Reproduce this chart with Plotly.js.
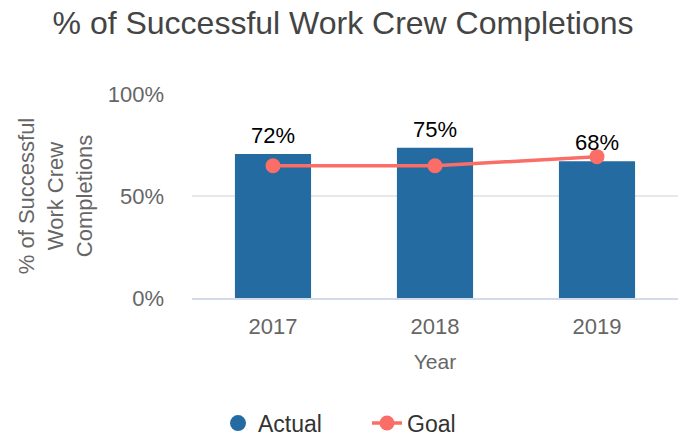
<!DOCTYPE html>
<html><head><meta charset="utf-8">
<script src="https://cdn.plot.ly/plotly-3.0.1.min.js"></script>
<style>html,body{margin:0;padding:0;background:#fff}#chart{width:686px;height:438px}</style>
</head><body><div id="chart"></div>
<script>
const years = ['2017', '2018', '2019'];
const actual = [70.6, 73.7, 67.0];
const actualLabels = ['72%', '75%', '68%'];
const goal = [64.8, 64.8, 69.3];
const yTickVals = [0, 50, 100];
const yTickText = ['0%', '50%', '100%'];

const blue = '#236ba1';
const salmon = '#fa6e67';
const font = 'Liberation Sans, Arial, Helvetica, sans-serif';

const traces = [
  {type: 'bar', x: years, y: actual, name: 'Actual', marker: {color: blue}, showlegend: false, hoverinfo: 'skip'},
  {type: 'scatter', mode: 'markers', x: [years[0]], y: [null], name: 'Actual',
   marker: {color: blue, size: 22, symbol: 'circle'}},
  {type: 'scatter', mode: 'lines+markers', x: years, y: goal, name: 'Goal',
   line: {color: salmon, width: 3.5}, marker: {color: salmon, size: 15}}
];

const annotations = years.map((yr, i) => ({
  xref: 'x', yref: 'y', x: i, y: actual[i], text: actualLabels[i], showarrow: false,
  yanchor: 'bottom', yshift: 4, font: {family: font, size: 22, color: '#000'}
}));

const layout = {
  width: 686, height: 438,
  margin: {l: 192, r: 8, t: 94, b: 140},
  paper_bgcolor: '#fff', plot_bgcolor: '#fff',
  font: {family: font, color: '#666'},
  title: {text: '% of Successful Work Crew Completions', x: 0.5, xanchor: 'center', yref: 'paper', y: 1, yanchor: 'bottom',
          pad: {b: 60}, font: {family: font, size: 32, color: '#444'}},
  bargap: 0.53,
  xaxis: {type: 'category', categoryorder: 'array', categoryarray: years, range: [-0.5, 2.5],
          tickfont: {size: 22, color: '#666'}, ticks: '', showgrid: false,
          showline: true, linecolor: '#d3dbe8', linewidth: 2, zeroline: false, ticklabelstandoff: 8,
          title: {text: 'Year', font: {size: 21, color: '#666'}, standoff: 16}},
  yaxis: {range: [0, 100], tickvals: yTickVals, ticktext: yTickText, tickfont: {size: 22, color: '#666'},
          gridcolor: '#e8e8e8', gridwidth: 2, zeroline: false, showline: false, ticks: '', ticklabelstandoff: 27,
          title: {text: '% of Successful<br>Work Crew<br>Completions', font: {size: 22, color: '#666'}, standoff: 9}},
  legend: {orientation: 'h', xref: 'container', x: 0.535, xanchor: 'center', yref: 'container', y: 0.034, yanchor: 'middle',
           font: {size: 23, color: '#333'}, traceorder: 'normal', entrywidth: 104},
  annotations: annotations,
  showlegend: true
};

Plotly.newPlot('chart', traces, layout, {displayModeBar: false, staticPlot: true});
</script></body></html>
